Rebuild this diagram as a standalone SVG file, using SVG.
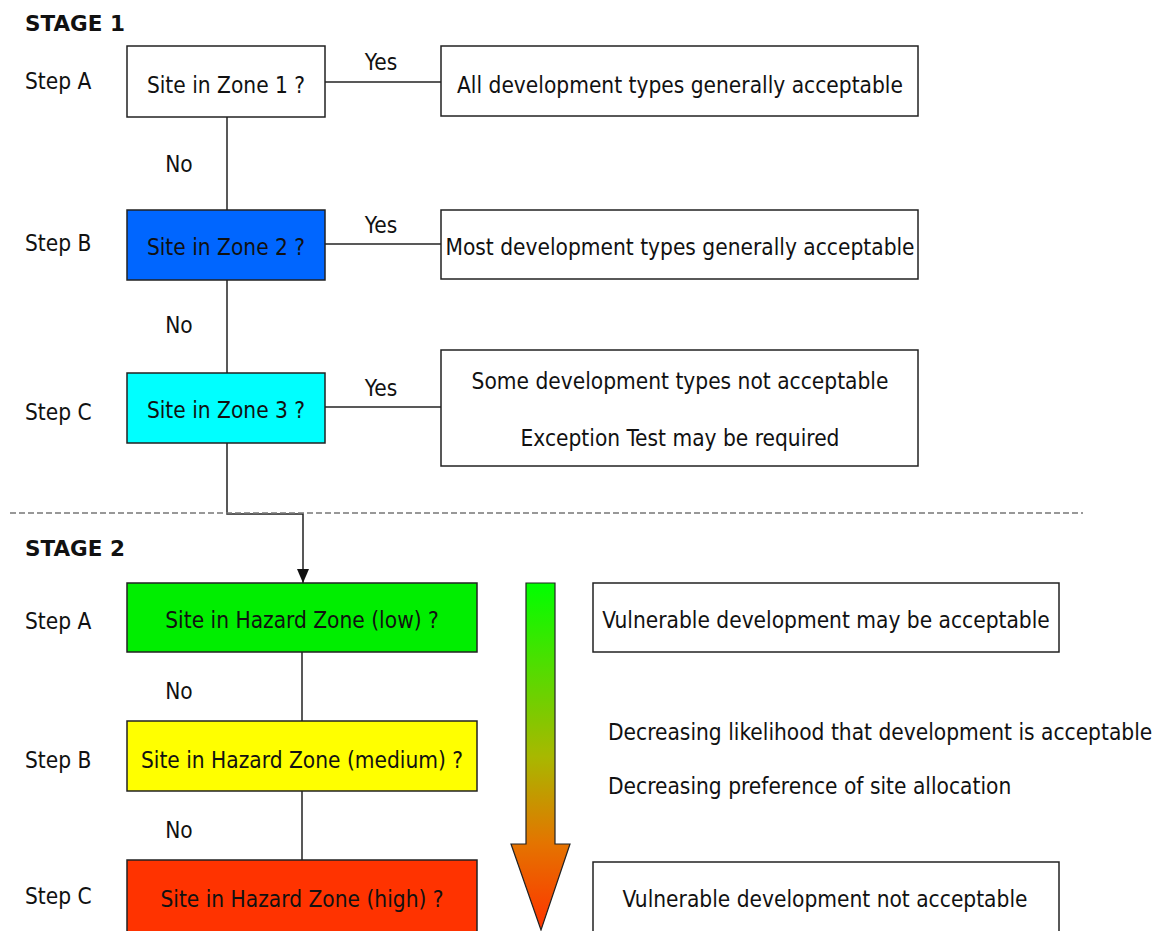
<svg xmlns="http://www.w3.org/2000/svg" width="1168" height="931" viewBox="0 0 1168 931">
<style>
text{font-family:"DejaVu Sans Condensed","DejaVu Sans",sans-serif;font-size:22.5px;fill:#111}
.h{font-weight:bold;font-family:"DejaVu Sans",sans-serif;font-size:21.5px}
.c{text-anchor:middle}
.box{stroke:#222;stroke-width:1.5}
.ln{stroke:#222;stroke-width:1.5;fill:none}
</style>
<defs>
<marker id="ah" markerWidth="14" markerHeight="12" refX="14" refY="6" orient="auto" markerUnits="userSpaceOnUse">
<path d="M0,0 L14,6 L0,12 Z" fill="#111"/>
</marker>
<linearGradient id="grad" x1="0" y1="0" x2="0" y2="1">
<stop offset="0" stop-color="#00ff00"/>
<stop offset="0.5" stop-color="#a8b800"/>
<stop offset="0.75" stop-color="#e47400"/>
<stop offset="1" stop-color="#ff3300"/>
</linearGradient>
</defs>
<rect width="1168" height="931" fill="#fff"/>
<text class="h" x="25" y="31">STAGE 1</text>
<text class="h" x="25" y="556">STAGE 2</text>
<g id="labels">
<text x="25" y="89">Step A</text>
<text x="25" y="251">Step B</text>
<text x="25" y="420">Step C</text>
<text x="25" y="629">Step A</text>
<text x="25" y="768">Step B</text>
<text x="25" y="904">Step C</text>
</g>
<g id="connectors">
<line class="ln" x1="325" y1="82" x2="441" y2="82"/>
<line class="ln" x1="325" y1="244" x2="441" y2="244"/>
<line class="ln" x1="325" y1="407" x2="441" y2="407"/>
<line class="ln" x1="227" y1="117" x2="227" y2="210"/>
<line class="ln" x1="227" y1="280" x2="227" y2="373"/>
<path class="ln" d="M227,443 V514 H303 V583" marker-end="url(#ah)"/>
<line class="ln" x1="302" y1="652" x2="302" y2="721"/>
<line class="ln" x1="302" y1="791" x2="302" y2="860"/>
<text class="c" x="381" y="70">Yes</text>
<text class="c" x="381" y="233">Yes</text>
<text class="c" x="381" y="396">Yes</text>
<text class="c" x="179" y="172">No</text>
<text class="c" x="179" y="333">No</text>
<text class="c" x="179" y="699">No</text>
<text class="c" x="179" y="838">No</text>
</g>
<line x1="10" y1="513" x2="1083" y2="513" stroke="#777" stroke-width="1.3" stroke-dasharray="6,3"/>
<g id="zone1"><rect class="box" x="127" y="46" width="198" height="71" fill="#fff"/><text class="c" x="226" y="93">Site in Zone 1 ?</text></g>
<g id="res1"><rect class="box" x="441" y="46" width="477" height="70" fill="#fff"/><text class="c" x="680" y="93">All development types generally acceptable</text></g>
<g id="zone2"><rect class="box" x="127" y="210" width="198" height="70" fill="#0066ff"/><text class="c" x="226" y="255">Site in Zone 2 ?</text></g>
<g id="res2"><rect class="box" x="441" y="210" width="477" height="69" fill="#fff"/><text class="c" x="680" y="255">Most development types generally acceptable</text></g>
<g id="zone3"><rect class="box" x="127" y="373" width="198" height="70" fill="#00ffff"/><text class="c" x="226" y="418">Site in Zone 3 ?</text></g>
<g id="res3"><rect class="box" x="441" y="350" width="477" height="116" fill="#fff"/><text class="c" x="680" y="389">Some development types not acceptable</text><text class="c" x="680" y="446">Exception Test may be required</text></g>
<g id="hz1"><rect class="box" x="127" y="583" width="350" height="69" fill="#00ee00"/><text class="c" x="302" y="628">Site in Hazard Zone (low) ?</text></g>
<g id="hz2"><rect class="box" x="127" y="721" width="350" height="70" fill="#ffff00"/><text class="c" x="302" y="768">Site in Hazard Zone (medium) ?</text></g>
<g id="hz3"><rect class="box" x="127" y="860" width="350" height="80" fill="#ff3300"/><text class="c" x="302" y="907">Site in Hazard Zone (high) ?</text></g>
<g id="gradarrow"><polygon points="526,583 555,583 555,844 570,844 541,930 511,844 526,844" fill="url(#grad)" stroke="#222" stroke-width="1.2"/></g>
<g id="out1"><rect class="box" x="593" y="583" width="466" height="69" fill="#fff"/><text class="c" x="826" y="628">Vulnerable development may be acceptable</text></g>
<g id="note"><text x="608" y="740">Decreasing likelihood that development is acceptable</text><text x="608" y="794">Decreasing preference of site allocation</text></g>
<g id="out2"><rect class="box" x="593" y="862" width="466" height="80" fill="#fff"/><text class="c" x="825" y="907">Vulnerable development not acceptable</text></g>
</svg>
